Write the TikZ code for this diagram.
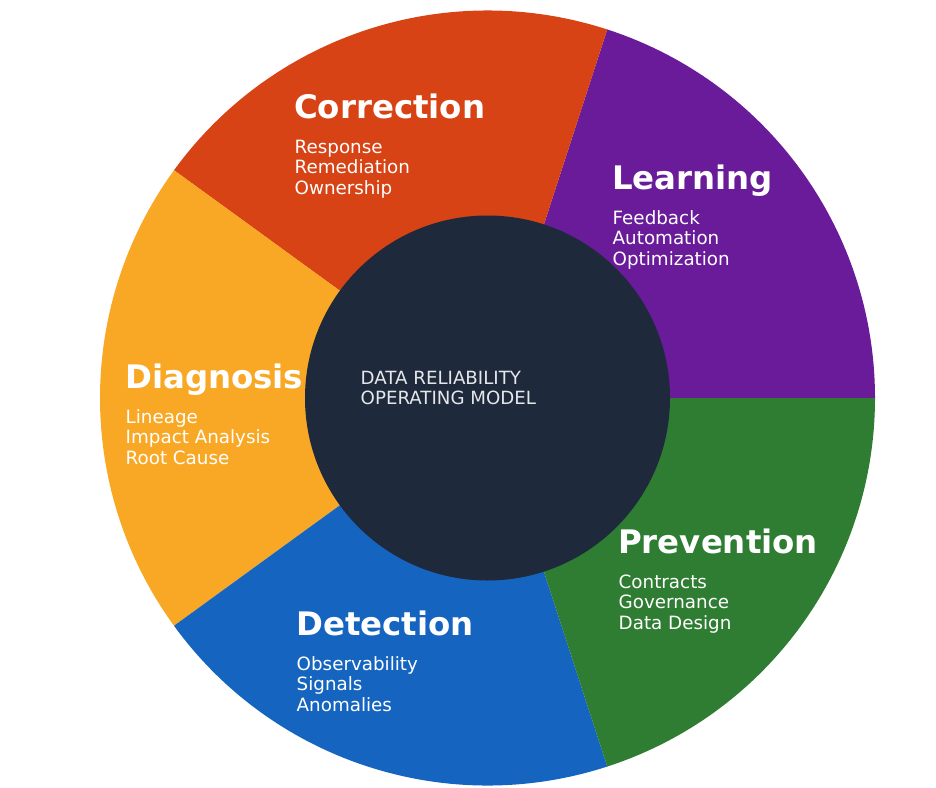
\documentclass[tikz,border=0pt]{standalone}
\usepackage{fontspec}
\setmainfont{DejaVu Sans}
\definecolor{cLearn}{HTML}{6A1B9A}
\definecolor{cCorr}{HTML}{D84315}
\definecolor{cDiag}{HTML}{F9A825}
\definecolor{cDet}{HTML}{1565C0}
\definecolor{cPrev}{HTML}{2E7D32}
\definecolor{cCore}{HTML}{1E293B}
\definecolor{cCoreText}{HTML}{E5E7EB}
\tikzset{
  titletext/.style={anchor=base west, inner sep=0pt, text=white, font=\fontsize{32.4}{36}\selectfont\bfseries},
  bodytext/.style={anchor=base west, inner sep=0pt, text=white, font=\fontsize{18.3}{20}\selectfont},
  coretext/.style={anchor=base west, inner sep=0pt, text=cCoreText, font=\fontsize{18.2}{20}\selectfont},
}
\newcommand{\segtext}[7]{%
  \node[titletext] (#1-t) at (#2,-#3) {#4};
  \node[bodytext] (#1-a) at (#2+0.5,-#3-35.0) {#5};
  \node[bodytext] (#1-b) at (#2+0.5,-#3-55.3) {#6};
  \node[bodytext] (#1-c) at (#2+0.5,-#3-75.6) {#7};
}
\begin{document}
\begin{tikzpicture}[x=1pt,y=1pt]
\useasboundingbox (0,0) rectangle (936,-787);
\coordinate (C) at (487.5,-398);
\def\R{387.5}
\fill[cLearn] (C) -- ++(0:\R) arc[start angle=0,end angle=72,radius=\R] -- cycle;
\fill[cCorr] (C) -- ++(72:\R) arc[start angle=72,end angle=144,radius=\R] -- cycle;
\fill[cDiag] (C) -- ++(144:\R) arc[start angle=144,end angle=216,radius=\R] -- cycle;
\fill[cDet] (C) -- ++(216:\R) arc[start angle=216,end angle=288,radius=\R] -- cycle;
\fill[cPrev] (C) -- ++(288:\R) arc[start angle=288,end angle=360,radius=\R] -- cycle;
\node[circle, fill=cCore, minimum size=365pt, inner sep=0pt] (core) at (C) {};
\segtext{corr}{294}{118.5}{Correction}{Response}{Remediation}{Ownership}
\segtext{learn}{612}{189.5}{Learning}{Feedback}{Automation}{Optimization}
\segtext{diag}{125}{388.5}{Diagnosis}{Lineage}{Impact Analysis}{Root Cause}
\segtext{prev}{618}{553.5}{Prevention}{Contracts}{Governance}{Data Design}
\segtext{det}{296}{635.5}{Detection}{Observability}{Signals}{Anomalies}
\node[coretext] (core-a) at (360.5,-384.5) {DATA RELIABILITY};
\node[coretext] (core-b) at (360.5,-404.5) {OPERATING MODEL};
\end{tikzpicture}
\end{document}
